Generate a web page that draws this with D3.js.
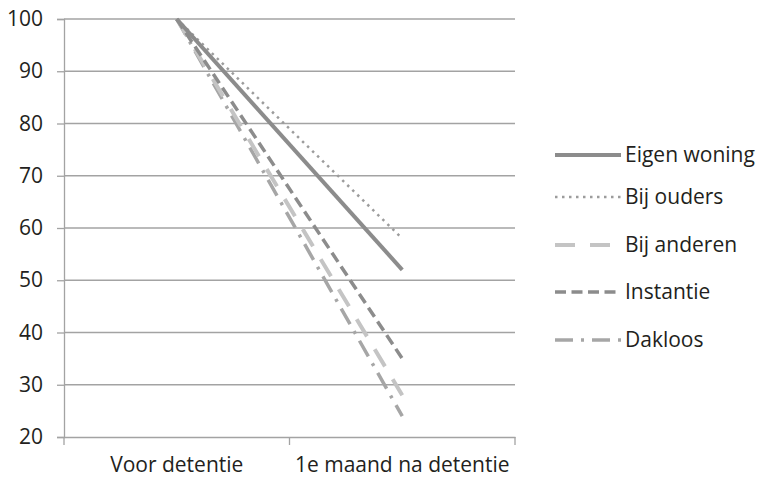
<!DOCTYPE html>
<html>
<head>
<meta charset="utf-8">
<script src="https://cdn.jsdelivr.net/npm/d3@7"></script>
<style>
  body { margin: 0; background: #fff; }
  text { font-family: "Open Sans", sans-serif; fill: #231f20; }
</style>
</head>
<body>
<svg></svg>
<script>
// categorieën en reeksen
const categories = ["Voor detentie", "1e maand na detentie"];
const seriesNames = ["Eigen woning", "Bij ouders", "Bij anderen", "Instantie", "Dakloos"];
const eigenWoning = [100, 52];
const bijOuders = [100, 58];
const bijAnderen = [100, 28];
const instantie = [100, 35];
const dakloos = [100, 24];
const yTicks = [20, 30, 40, 50, 60, 70, 80, 90, 100];

const styles = [
  { color: "#8c8c8c", width: 4, dash: null },
  { color: "#9c9c9c", width: 2.5, dash: "2.5,4.5" },
  { color: "#c4c4c4", width: 4, dash: "20,15" },
  { color: "#8c8c8c", width: 3.5, dash: "11,5.5" },
  { color: "#a6a6a6", width: 3.5, dash: "18,8,3,8" }
];
const legendY = [155, 197, 245, 292, 340];

document.addEventListener("DOMContentLoaded", function() {
  const width = 762, height = 478;
  const svg = d3.select("svg").attr("width", width).attr("height", height);

  const left = 64, right = 515, top = 19, bottom = 437;

  const x = d3.scaleBand().domain(categories).range([left, right]);
  const y = d3.scaleLinear().domain([20, 100]).range([bottom, top]);

  // rasterlijnen
  svg.append("g").selectAll("line")
    .data(yTicks.slice(1))
    .join("line")
    .attr("x1", left).attr("x2", right)
    .attr("y1", d => y(d)).attr("y2", d => y(d))
    .attr("stroke", "#a3a3a3").attr("stroke-width", 1.3);

  // y-as
  const yAxis = svg.append("g")
    .attr("transform", `translate(${left},0)`)
    .call(d3.axisLeft(y).tickValues(yTicks).tickSize(7).tickPadding(14));
  yAxis.select(".domain").attr("stroke", "#a3a3a3").attr("stroke-width", 1.3);
  yAxis.selectAll(".tick line").attr("stroke", "#a3a3a3").attr("stroke-width", 1.3);
  yAxis.selectAll("text").style("font-size", "21px").attr("fill", "#231f20")
    .attr("font-family", "Open Sans, sans-serif");

  // x-as
  const xAxis = svg.append("g")
    .attr("transform", `translate(0,${bottom})`)
    .call(d3.axisBottom(x).tickSize(0).tickPadding(20));
  xAxis.select(".domain").attr("stroke", "#a3a3a3").attr("stroke-width", 1.3);
  xAxis.selectAll("text").style("font-size", "21px").attr("fill", "#231f20")
    .attr("font-family", "Open Sans, sans-serif");
  // streepjes tussen de categorieën
  xAxis.selectAll(".sep")
    .data([left, x(categories[1]), right])
    .join("line")
    .attr("x1", d => d).attr("x2", d => d)
    .attr("y1", 0).attr("y2", 8)
    .attr("stroke", "#a3a3a3").attr("stroke-width", 1.3);

  const allSeries = [eigenWoning, bijOuders, bijAnderen, instantie, dakloos];
  const line = d3.line()
    .x((d, i) => x(categories[i]) + x.bandwidth() / 2)
    .y(d => y(d));

  // lijnen, van achter naar voor
  const order = [4, 2, 3, 1, 0];
  svg.append("g").selectAll("path")
    .data(order)
    .join("path")
    .attr("d", i => line(allSeries[i]))
    .attr("fill", "none")
    .attr("stroke", i => styles[i].color)
    .attr("stroke-width", i => styles[i].width)
    .attr("stroke-dasharray", i => styles[i].dash);

  // legenda
  const leg = svg.append("g").selectAll("g")
    .data(seriesNames)
    .join("g")
    .attr("transform", (d, i) => `translate(555,${legendY[i]})`);
  leg.append("line")
    .attr("x1", 0).attr("x2", 66)
    .attr("stroke", (d, i) => styles[i].color)
    .attr("stroke-width", (d, i) => styles[i].width)
    .attr("stroke-dasharray", (d, i) => styles[i].dash);
  leg.append("text")
    .attr("x", 70).attr("dy", "0.35em")
    .style("font-size", "21px")
    .text(d => d);
});
</script>
</body>
</html>
